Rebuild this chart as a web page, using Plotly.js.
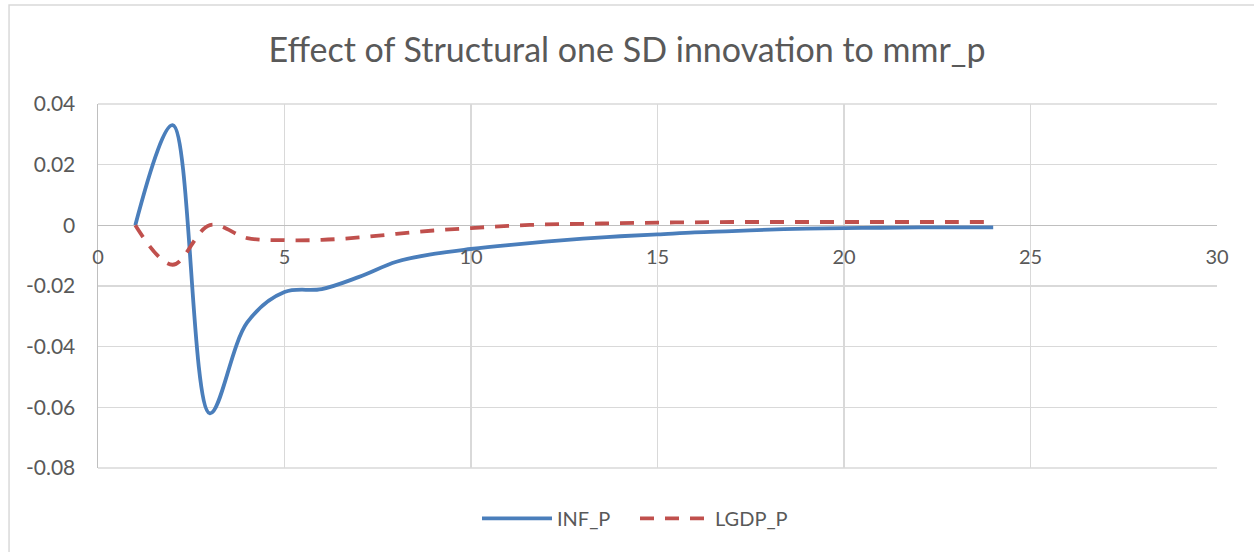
<!DOCTYPE html>
<html>
<head>
<meta charset="utf-8">
<script src="https://cdn.plot.ly/plotly-3.0.1.min.js"></script>
<style>
  html, body { margin: 0; padding: 0; background: #fff; }
  #chart { width: 1254px; height: 552px; }
</style>
</head>
<body>
<div id="chart"></div>
<script>
// horizon steps of the impulse response
const periods = [1, 2, 3, 4, 5, 6, 7, 8, 9, 10, 11, 12, 13, 14, 15, 16, 17, 18, 19, 20, 21, 22, 23, 24];

// response of INF_P
const infP = [0, 0.033, -0.062, -0.032, -0.022, -0.021, -0.017, -0.012, -0.0094, -0.0078,
  -0.0065, -0.0054, -0.0044, -0.0036, -0.003, -0.0023, -0.0019, -0.0014, -0.0011, -0.0009,
  -0.0008, -0.0007, -0.0007, -0.0007];

// response of LGDP_P
const lgdpP = [0, -0.013, 0.0001, -0.0042, -0.0049, -0.0048, -0.004, -0.0028, -0.0017, -0.0009,
  -0.0002, 0.0003, 0.0005, 0.0007, 0.0009, 0.001, 0.0011, 0.0011, 0.0011, 0.0011,
  0.0011, 0.0011, 0.0011, 0.0011];

const seriesNames = ['INF_P', 'LGDP_P'];
const xTicks = [0, 5, 10, 15, 20, 25, 30];
const yTicks = [0.04, 0.02, 0, -0.02, -0.04, -0.06, -0.08];

const FONT = 'Lato, "Open Sans", sans-serif';
const TXT = '#595959';
const GRID = '#d9d9d9';

const yMin = -0.08;
const yMax = 0.04;

const traces = [
  {
    x: periods,
    y: infP,
    name: seriesNames[0],
    type: 'scatter',
    mode: 'lines',
    line: {color: '#4a7ebb', width: 3.8, shape: 'spline', smoothing: 1},
  },
  {
    x: periods,
    y: lgdpP,
    name: seriesNames[1],
    type: 'scatter',
    mode: 'lines',
    line: {color: '#c0504d', width: 3.8, shape: 'spline', smoothing: 1, dash: '14px,11px'},
  },
];

const layout = {
  width: 1254,
  height: 552,
  margin: {l: 98, r: 37, t: 104, b: 84},
  paper_bgcolor: '#fff',
  plot_bgcolor: '#fff',
  font: {family: FONT, color: TXT, size: 20},
  title: {
    text: 'Effect of Structural one SD innovation to mmr_p',
    font: {family: FONT, size: 34, color: TXT},
    x: 0.5,
    xanchor: 'center',
    y: 0.91,
    yanchor: 'middle',
  },
  showlegend: true,
  legend: {
    orientation: 'h',
    x: (477 - 98) / 1119,
    xanchor: 'left',
    y: -0.085,
    yanchor: 'top',
    font: {family: FONT, size: 20, color: TXT},
    itemwidth: 70,
    entrywidth: 73,
    tracegroupgap: 0,
  },
  xaxis: {
    range: [0, 30],
    tickvals: xTicks,
    ticktext: xTicks.map(String),
    showgrid: true,
    gridcolor: GRID,
    gridwidth: 1.3,
    zeroline: false,
    showline: false,
    anchor: 'free',
    // place the category axis on y = 0, as in the spreadsheet chart
    position: (0 - yMin) / (yMax - yMin),
    ticks: 'outside',
    ticklen: 14,
    tickcolor: 'rgba(0,0,0,0)',
    tickfont: {family: FONT, size: 20, color: TXT},
    fixedrange: true,
  },
  yaxis: {
    range: [yMin, yMax],
    tickvals: yTicks,
    ticktext: yTicks.map((v) => (v === 0 ? '0' : v.toFixed(2))),
    showgrid: true,
    gridcolor: GRID,
    gridwidth: 1.3,
    zeroline: true,
    zerolinecolor: '#bfbfbf',
    zerolinewidth: 1.5,
    showline: true,
    linecolor: '#bfbfbf',
    linewidth: 1.5,
    ticks: 'outside',
    ticklen: 17,
    tickcolor: 'rgba(0,0,0,0)',
    tickfont: {family: FONT, size: 21, color: TXT},
    fixedrange: true,
  },
  shapes: [
    {
      type: 'line', xref: 'paper', yref: 'paper',
      x0: 0, x1: 1, y0: 1, y1: 1,
      line: {color: GRID, width: 1.3},
    },
    {
      type: 'line', xref: 'paper', yref: 'paper',
      x0: 0, x1: 1, y0: 0, y1: 0,
      line: {color: GRID, width: 1.3},
    },
    {
      // chart frame
      type: 'rect', xref: 'paper', yref: 'paper',
      x0: -0.0795, x1: 1.1, y0: -0.4, y1: 1.272,
      line: {color: '#d9d9d9', width: 1.5},
      layer: 'below',
    },
  ],
};

Plotly.newPlot('chart', traces, layout, {displayModeBar: false, staticPlot: true});
</script>
</body>
</html>
